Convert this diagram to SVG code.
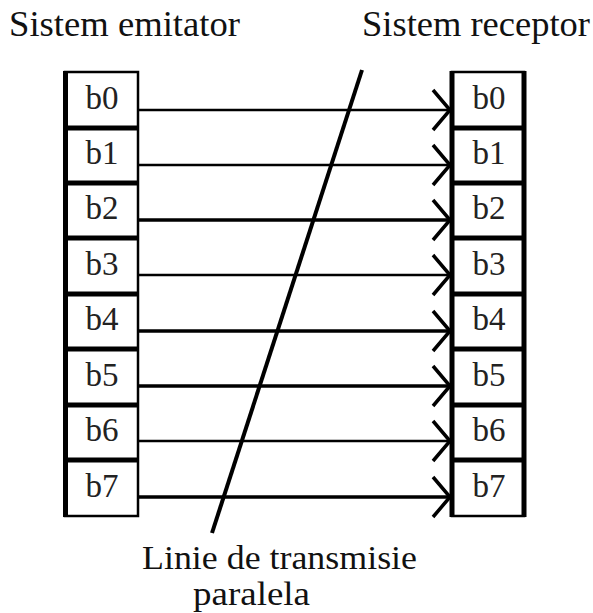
<svg xmlns="http://www.w3.org/2000/svg" width="593" height="613" viewBox="0 0 593 613">
  <defs>
    <style>
      .title { font-family: 'Liberation Serif', 'Times New Roman', Times, 'DejaVu Serif', serif; font-size: 36px; fill: #111; }
      .caption { font-family: 'Liberation Serif', 'Times New Roman', Times, 'DejaVu Serif', serif; font-size: 33.5px; fill: #111; }
      .bit { font-family: 'Liberation Serif', 'Times New Roman', Times, 'DejaVu Serif', serif; font-size: 33px; fill: #222; text-anchor: middle; }
      .cell { fill: #fff; stroke: #000; stroke-width: 2.5; }
      .sep { stroke: #000; stroke-width: 5; }
      .edge { stroke: #000; stroke-width: 5; }
      .wire { stroke: #000; fill: none; }
      .head { stroke: #000; stroke-width: 3.5; fill: none; stroke-linecap: butt; }
    </style>
  </defs>
  <rect width="593" height="613" fill="#fff"/>

  <!-- headings -->
  <text class="title" x="9" y="36" textLength="231" lengthAdjust="spacingAndGlyphs">Sistem emitator</text>
  <text class="title" x="362" y="36" textLength="228" lengthAdjust="spacingAndGlyphs">Sistem receptor</text>

  <!-- sender register -->
  <g id="sender">
    <rect class="cell" x="65" y="72" width="73" height="444"/>
    <line class="edge" x1="65.5" y1="71" x2="65.5" y2="517"/>
    <line class="sep" x1="64" y1="128" x2="138" y2="128"/>
    <line class="sep" x1="64" y1="183" x2="138" y2="183"/>
    <line class="sep" x1="64" y1="238" x2="138" y2="238"/>
    <line class="sep" x1="64" y1="294" x2="138" y2="294"/>
    <line class="sep" x1="64" y1="349" x2="138" y2="349"/>
    <line class="sep" x1="64" y1="405" x2="138" y2="405"/>
    <line class="sep" x1="64" y1="460" x2="138" y2="460"/>
    <text class="bit" x="102" y="109">b0</text>
    <text class="bit" x="102" y="164">b1</text>
    <text class="bit" x="102" y="219">b2</text>
    <text class="bit" x="102" y="275">b3</text>
    <text class="bit" x="102" y="330">b4</text>
    <text class="bit" x="102" y="386">b5</text>
    <text class="bit" x="102" y="441">b6</text>
    <text class="bit" x="102" y="497">b7</text>
  </g>

  <!-- receiver register -->
  <g id="receiver">
    <rect class="cell" x="452" y="72" width="72" height="444"/>
    <line class="edge" x1="452" y1="71" x2="452" y2="517"/>
    <line class="edge" x1="524" y1="71" x2="524" y2="517"/>
    <line class="sep" x1="451" y1="128" x2="526" y2="128"/>
    <line class="sep" x1="451" y1="183" x2="526" y2="183"/>
    <line class="sep" x1="451" y1="238" x2="526" y2="238"/>
    <line class="sep" x1="451" y1="294" x2="526" y2="294"/>
    <line class="sep" x1="451" y1="349" x2="526" y2="349"/>
    <line class="sep" x1="451" y1="405" x2="526" y2="405"/>
    <line class="sep" x1="451" y1="460" x2="526" y2="460"/>
    <text class="bit" x="489" y="109">b0</text>
    <text class="bit" x="489" y="164">b1</text>
    <text class="bit" x="489" y="219">b2</text>
    <text class="bit" x="489" y="275">b3</text>
    <text class="bit" x="489" y="330">b4</text>
    <text class="bit" x="489" y="386">b5</text>
    <text class="bit" x="489" y="441">b6</text>
    <text class="bit" x="489" y="497">b7</text>
  </g>

  <!-- parallel data lines -->
  <g id="connectors">
    <line class="wire" stroke-width="2.5" x1="138" y1="110" x2="451" y2="110"/>
    <line class="wire" stroke-width="2.5" x1="138" y1="165" x2="451" y2="165"/>
    <line class="wire" stroke-width="3.5" x1="138" y1="220" x2="451" y2="220"/>
    <line class="wire" stroke-width="2.5" x1="138" y1="275" x2="451" y2="275"/>
    <line class="wire" stroke-width="3.5" x1="138" y1="331" x2="451" y2="331"/>
    <line class="wire" stroke-width="3.5" x1="138" y1="386" x2="451" y2="386"/>
    <line class="wire" stroke-width="2.5" x1="138" y1="441" x2="451" y2="441"/>
    <line class="wire" stroke-width="3.5" x1="138" y1="497" x2="451" y2="497"/>
    <polyline class="head" points="433,90 450,110 433,130"/>
    <polyline class="head" points="433,145 450,165 433,185"/>
    <polyline class="head" points="433,200 450,220 433,240"/>
    <polyline class="head" points="433,255 450,275 433,295"/>
    <polyline class="head" points="433,311 450,331 433,351"/>
    <polyline class="head" points="433,366 450,386 433,406"/>
    <polyline class="head" points="433,421 450,441 433,461"/>
    <polyline class="head" points="433,477 450,497 433,517"/>
    <!-- transmission line marker -->
    <line stroke="#000" stroke-width="4" x1="362" y1="70" x2="212" y2="533"/>
  </g>

  <text class="caption" x="142" y="569" textLength="275" lengthAdjust="spacingAndGlyphs">Linie de transmisie</text>
  <text class="caption" x="193" y="605" textLength="117" lengthAdjust="spacingAndGlyphs">paralela</text>
</svg>
